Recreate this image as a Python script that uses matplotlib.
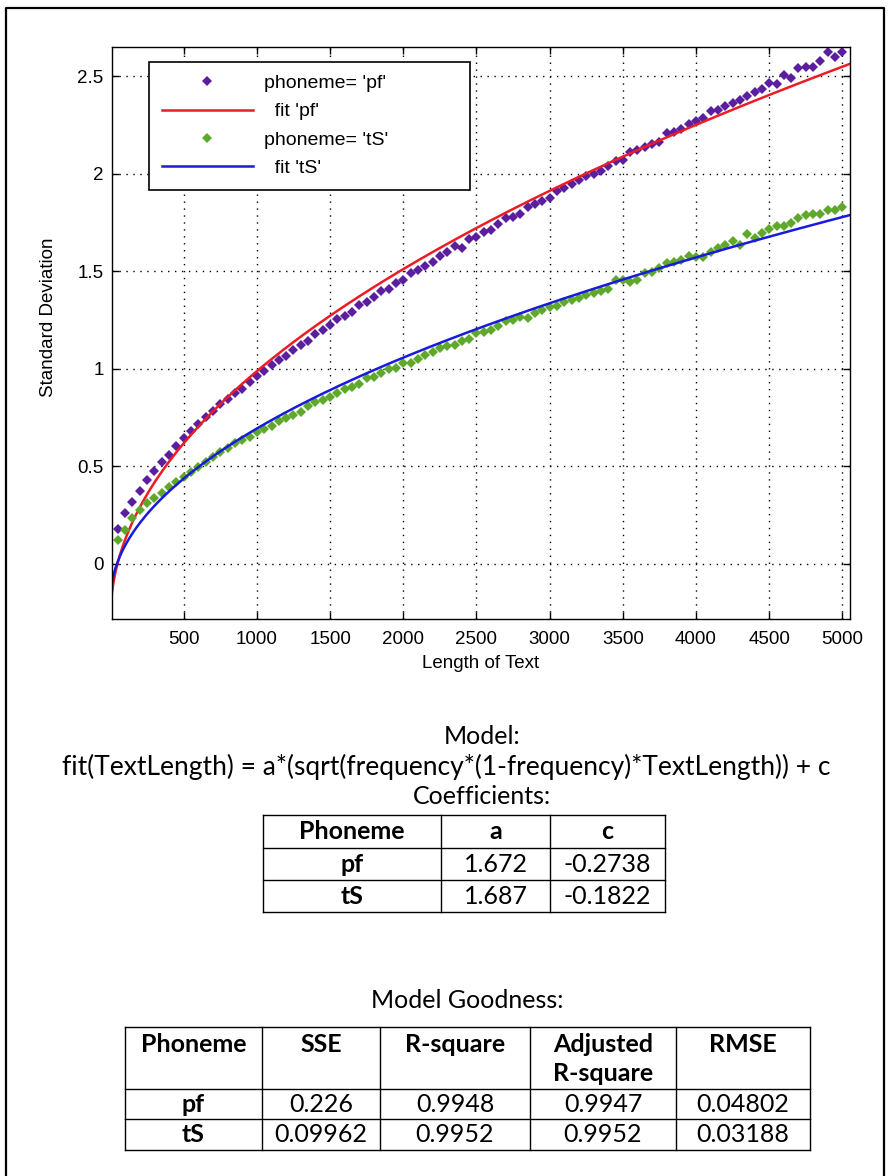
import numpy as np
import matplotlib.pyplot as plt

# text lengths sampled every 50 characters
text_length = np.arange(50, 5001, 50)

# measured standard deviation of the phoneme counts
std_pf = np.array([
    0.178, 0.260, 0.318, 0.374, 0.430, 0.475, 0.521, 0.557, 0.606, 0.644,
    0.681, 0.717, 0.751, 0.785, 0.820, 0.847, 0.874, 0.898, 0.931, 0.965,
    0.990, 1.021, 1.045, 1.066, 1.094, 1.120,
    1.144, 1.177, 1.197, 1.224, 1.255, 1.269, 1.289, 1.327, 1.344, 1.366,
    1.399, 1.407, 1.441, 1.455, 1.491, 1.505, 1.525, 1.546, 1.578, 1.597,
    1.629, 1.617, 1.663, 1.675, 1.703, 1.710,
    1.743, 1.771, 1.776, 1.793, 1.827, 1.843, 1.860, 1.877, 1.913, 1.925,
    1.947, 1.967, 1.988, 1.998, 2.013, 2.039, 2.066, 2.070, 2.112, 2.121,
    2.136, 2.150, 2.164, 2.206, 2.211, 2.228, 2.254, 2.268,
    2.283, 2.321, 2.324, 2.348, 2.363, 2.377, 2.398, 2.420, 2.433, 2.466,
    2.459, 2.505, 2.488, 2.539, 2.545, 2.545, 2.578, 2.621, 2.596, 2.621])

std_ts = np.array([
    0.123, 0.174, 0.234, 0.277, 0.311, 0.336, 0.365, 0.393, 0.422, 0.447,
    0.473, 0.499, 0.524, 0.550, 0.575, 0.596, 0.618, 0.635, 0.652, 0.675,
    0.690, 0.707, 0.731, 0.746, 0.764, 0.777,
    0.811, 0.828, 0.842, 0.857, 0.874, 0.897, 0.908, 0.924, 0.955, 0.958,
    0.977, 0.997, 1.006, 1.028, 1.030, 1.050, 1.071, 1.088, 1.105, 1.118,
    1.122, 1.144, 1.153, 1.182, 1.190, 1.200,
    1.218, 1.247, 1.250, 1.267, 1.259, 1.284, 1.301, 1.315, 1.323, 1.344,
    1.352, 1.361, 1.378, 1.387, 1.400, 1.407, 1.455, 1.455, 1.446, 1.455,
    1.489, 1.497, 1.515, 1.540, 1.549, 1.557, 1.578, 1.574,
    1.574, 1.600, 1.617, 1.634, 1.655, 1.634, 1.689, 1.672, 1.697, 1.715,
    1.732, 1.733, 1.749, 1.774, 1.788, 1.793, 1.793, 1.814, 1.814, 1.827])

# model: a*sqrt(frequency*(1-frequency)*TextLength) + c
freq_pf, a_pf, c_pf = 0.00057, 1.672, -0.2738
freq_ts, a_ts, c_ts = 0.00027, 1.687, -0.1822

# goodness of fit
gof_header = ['Phoneme', 'SSE', 'R-square', 'Adjusted\nR-square', 'RMSE']
gof_pf = ['pf', '0.226', '0.9948', '0.9947', '0.04802']
gof_ts = ['tS', '0.09962', '0.9952', '0.9952', '0.03188']

W, H = 889, 1176
fig = plt.figure(figsize=(W / 100, H / 100), dpi=100)

# page overlay in pixel coordinates (frame, captions, tables)
page = fig.add_axes([0, 0, 1, 1])
page.set_axis_off()
page.set_xlim(0, W)
page.set_ylim(H, 0)
page.plot([6, 6, 884, 884], [1200, 8, 8, 1200], color='black', lw=1.6)

# ---------------------------- main plot ----------------------------
ax = fig.add_axes([112 / W, 1 - 619 / H, 738 / W, 572 / H])
xmin, xmax = 10, 5052
L = np.linspace(xmin, xmax, 800)
fit_pf = a_pf * np.sqrt(freq_pf * (1 - freq_pf) * L) + c_pf
fit_ts = a_ts * np.sqrt(freq_ts * (1 - freq_ts) * L) + c_ts

purple = '#5a1e9e'
green = '#5ea92c'
ax.plot(text_length, std_pf, 'D', color=purple, ms=4.8, mew=0, label="phoneme= 'pf'")
ax.plot(L, fit_pf, '-', color='#ec1c24', lw=1.8, label="  fit 'pf'")
ax.plot(text_length, std_ts, 'D', color=green, ms=4.8, mew=0, label="phoneme= 'tS'")
ax.plot(L, fit_ts, '-', color='#1a1adc', lw=1.8, label="  fit 'tS'")

ax.set_xlim(xmin, xmax)
ax.set_ylim(-0.282, 2.649)
ax.set_xticks(np.arange(500, 5001, 500))
ax.set_yticks([0, 0.5, 1, 1.5, 2, 2.5])
ax.set_yticklabels(['0', '0.5', '1', '1.5', '2', '2.5'])
ax.grid(True, color='black', linestyle=(0, (1, 4)), linewidth=1.0)
ax.tick_params(direction='in', length=5, width=1, top=True, right=True,
               labelsize=13.5, pad=6)
ax.tick_params(axis='x', pad=9)
for lab in ax.get_xticklabels() + ax.get_yticklabels():
    lab.set_family('Liberation Sans')
for sp in ax.spines.values():
    sp.set_linewidth(1.0)
ax.set_xlabel('Length of Text', fontsize=13.5, family='Liberation Sans', labelpad=5)
ax.set_ylabel('Standard Deviation', fontsize=13.5, family='Liberation Sans')
ax.yaxis.set_label_coords(-0.074, 0.528)

leg = ax.legend(loc='upper left', bbox_to_anchor=(0.050, 0.974, 0.435, 0.0),
                mode='expand', fancybox=False, framealpha=1, edgecolor='black',
                prop={'family': 'Liberation Sans', 'size': 14},
                handlelength=4.7, handletextpad=0.55, labelspacing=0.55,
                borderpad=0.65, borderaxespad=0, numpoints=1)
leg.get_frame().set_linewidth(1.2)

# ---------------------------- captions and tables ----------------------------
font = 'Lato'
fs = 18
page.text(482, 737, 'Model:', ha='center', va='center', fontsize=fs, family=font)
page.text(446, 767, 'fit(TextLength) = a*(sqrt(frequency*(1-frequency)*TextLength)) + c',
          ha='center', va='center', fontsize=19, family=font)
page.text(482, 796, 'Coefficients:', ha='center', va='center', fontsize=fs, family=font)


def draw_grid(xs, ys):
    for x in xs:
        page.plot([x, x], [ys[0], ys[-1]], color='black', lw=1.0)
    for y in ys:
        page.plot([xs[0], xs[-1]], [y, y], color='black', lw=1.0)


# coefficients table
cx = [263, 441, 550, 665]
cy = [815, 848, 880, 912]
draw_grid(cx, cy)
coef_rows = [['Phoneme', 'a', 'c'],
             ['pf', f'{a_pf:g}', f'{c_pf:g}'],
             ['tS', f'{a_ts:g}', f'{c_ts:g}']]
for r, row in enumerate(coef_rows):
    for c, val in enumerate(row):
        bold = r == 0 or c == 0
        page.text((cx[c] + cx[c + 1]) / 2, (cy[r] + cy[r + 1]) / 2, val,
                  ha='center', va='center', fontsize=fs, family=font,
                  fontweight='bold' if bold else 'normal')

# goodness table
page.text(467, 1001, 'Model Goodness:', ha='center', va='center', fontsize=fs, family=font)
gx = [125, 262, 380, 530, 676, 810]
gy = [1027, 1089, 1119, 1150]
draw_grid(gx, gy)
for c, val in enumerate(gof_header):
    page.text((gx[c] + gx[c + 1]) / 2, 1033, val, ha='center', va='top',
              fontsize=fs, family=font, fontweight='bold', linespacing=1.3)
for r, row in enumerate([gof_pf, gof_ts]):
    for c, val in enumerate(row):
        page.text((gx[c] + gx[c + 1]) / 2, (gy[r + 1] + gy[r + 2]) / 2, val,
                  ha='center', va='center', fontsize=fs, family=font,
                  fontweight='bold' if c == 0 else 'normal')

fig.savefig('out.png', dpi=100)
